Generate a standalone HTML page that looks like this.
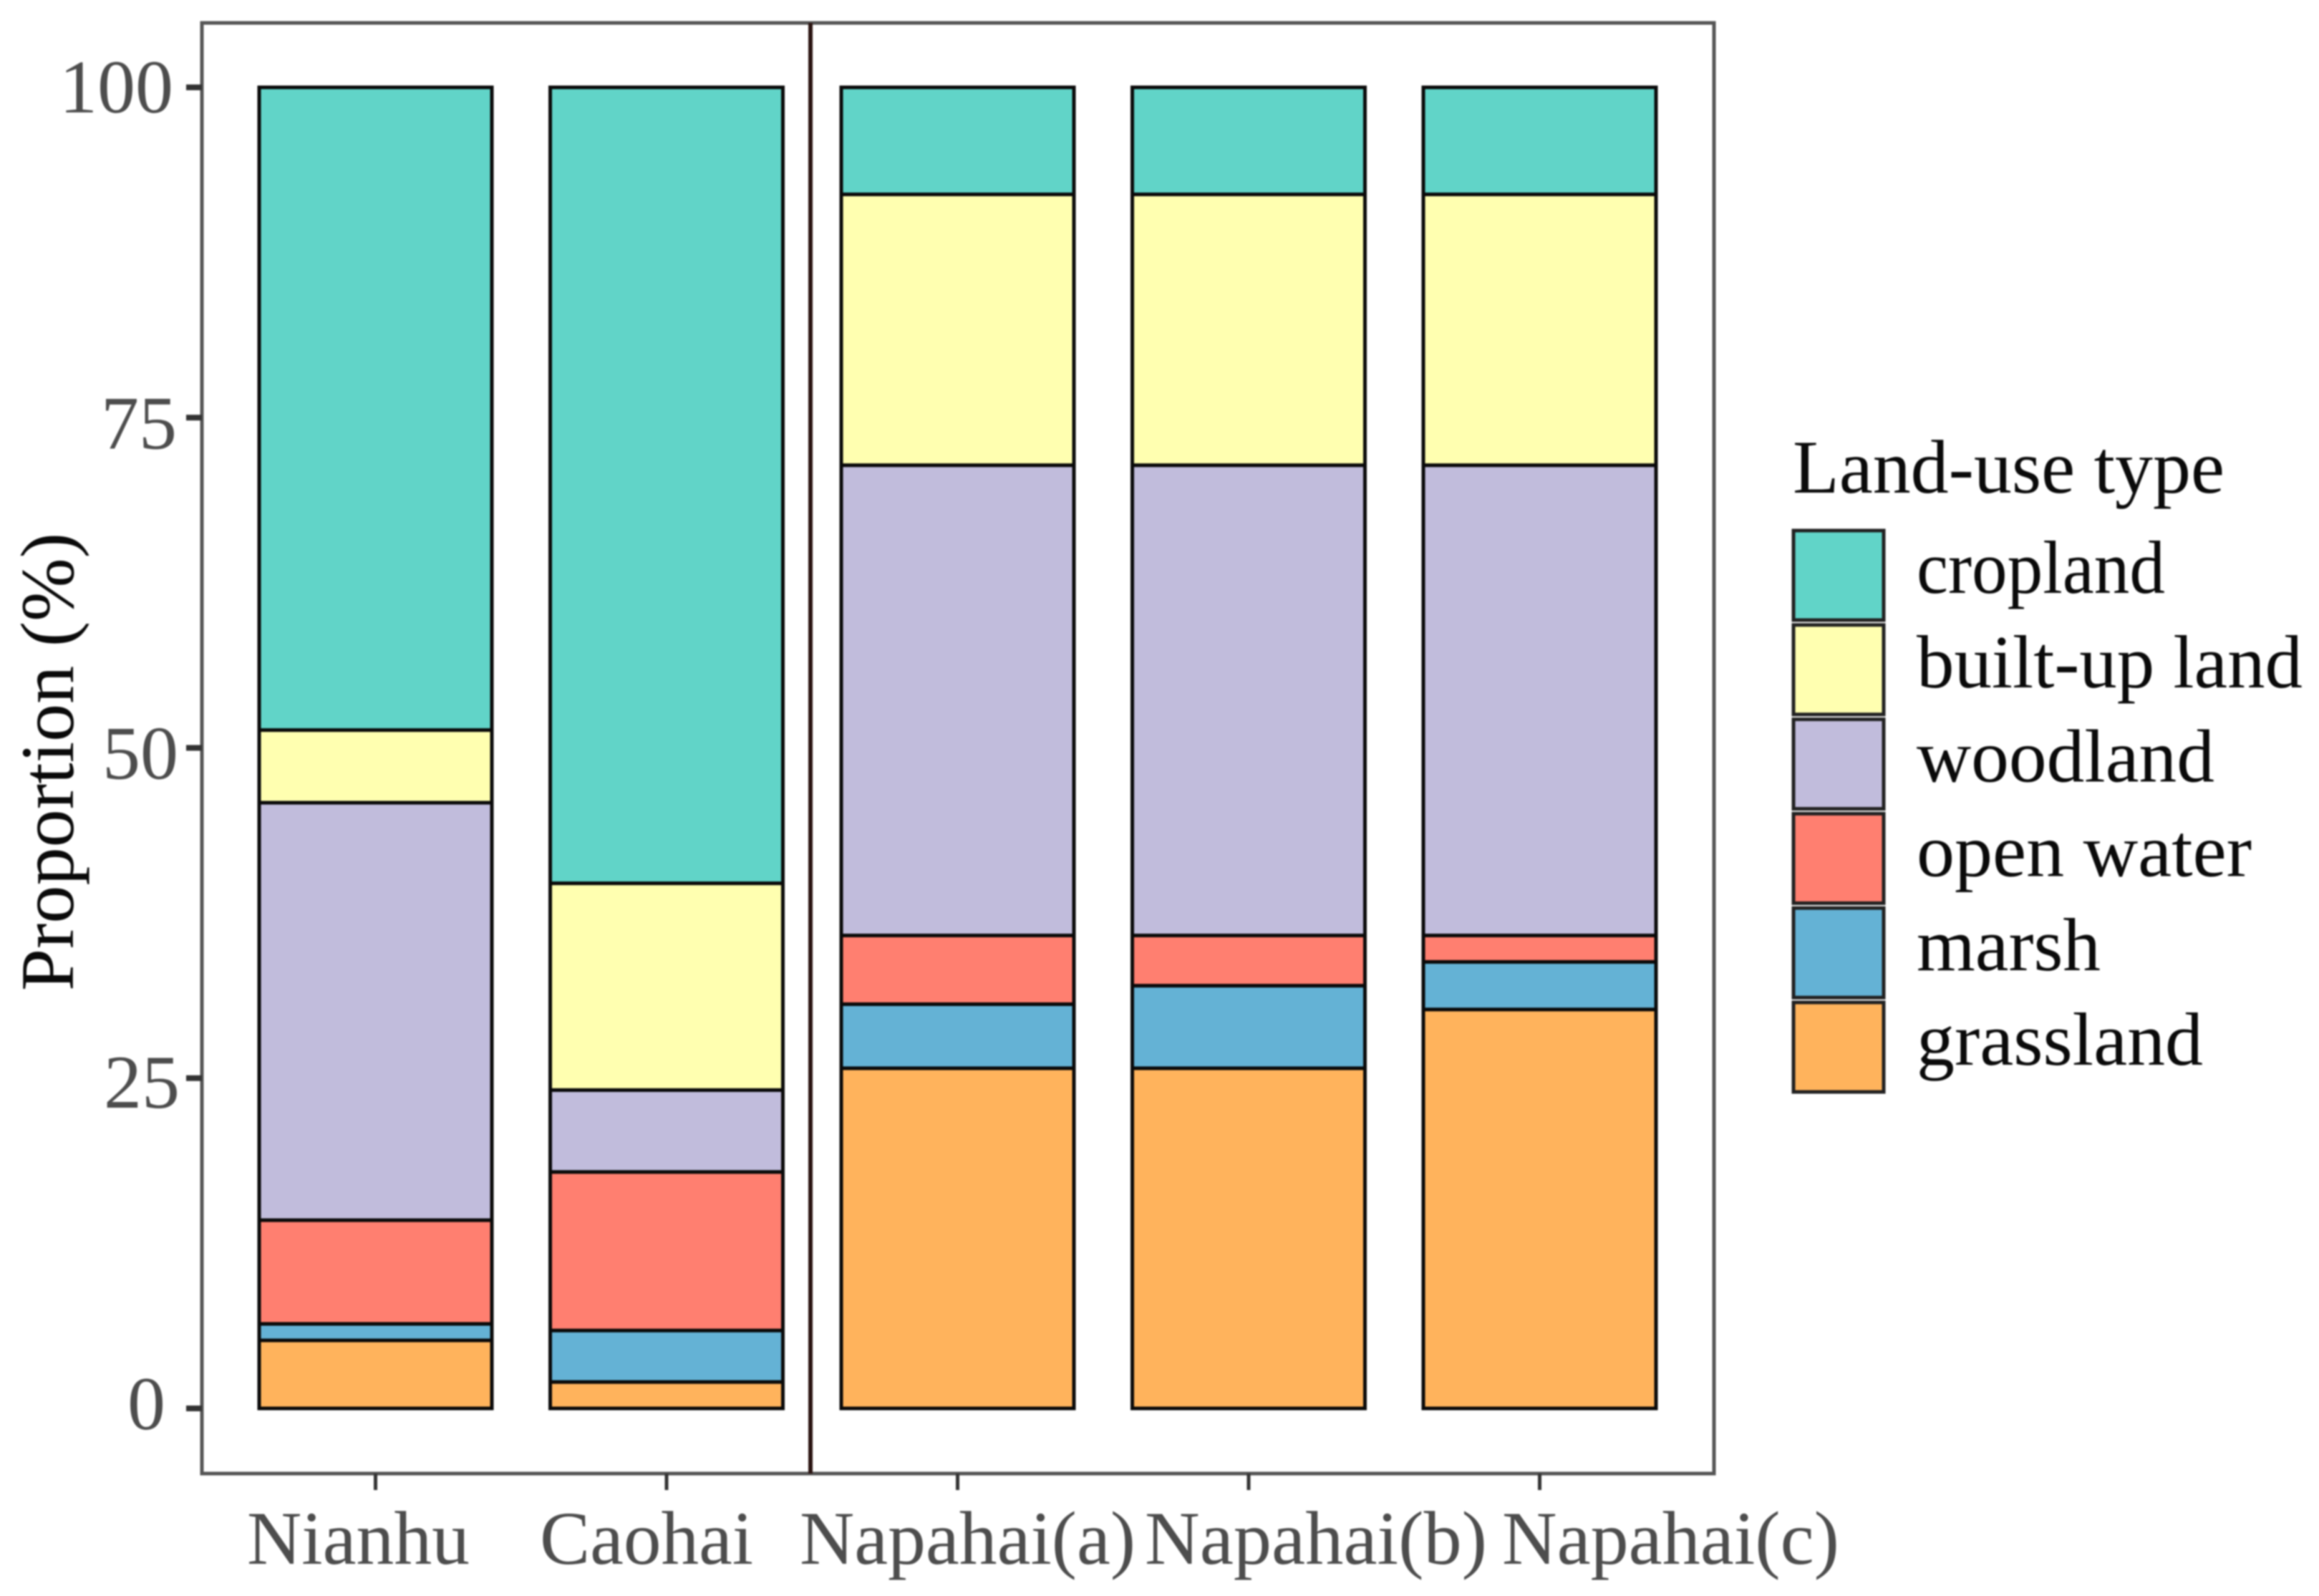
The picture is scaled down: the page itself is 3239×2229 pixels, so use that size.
<!DOCTYPE html>
<html lang="en">
<head>
<meta charset="utf-8">
<title>Land-use type proportions</title>
<style>
html,body{margin:0;padding:0;background:#fff}
svg{display:block;filter:blur(1px)}
text{font-family:"Liberation Serif",serif}
</style>
</head>
<body>
<svg id="chart" xmlns="http://www.w3.org/2000/svg" width="3239" height="2229" viewBox="0 0 3239 2229">
  <rect x="0" y="0" width="3239" height="2229" fill="#ffffff"/>
  <g id="bars"></g>
  <rect x="282" y="32" width="2112" height="2026" fill="none" stroke="#555555" stroke-width="5"/>
  <line x1="1132" y1="32" x2="1132" y2="2058" stroke="#2b1512" stroke-width="6"/>
  <g id="axes"></g>
  <text transform="translate(102,1064) rotate(-90)" text-anchor="middle" font-size="106" fill="#0a0a0a" textLength="640" lengthAdjust="spacingAndGlyphs">Proportion (%)</text>
  <g id="legend">
    <text x="2504" y="688" font-size="106" fill="#0a0a0a" textLength="603" lengthAdjust="spacingAndGlyphs">Land-use type</text>
  </g>
</svg>
<script>
const categories = ["Nianhu", "Caohai", "Napahai(a)", "Napahai(b)", "Napahai(c)"];
const yTicks = [0, 25, 50, 75, 100];
const grassland = [5.15, 2.0, 25.75, 25.75, 30.2];
const marsh = [1.25, 3.9, 4.85, 6.25, 3.6];
const openWater = [7.85, 12.0, 5.2, 3.8, 2.0];
const woodland = [31.6, 6.2, 35.6, 35.6, 35.6];
const builtUp = [5.5, 15.65, 20.5, 20.5, 20.5];
const cropland = [48.65, 60.25, 8.1, 8.1, 8.1];
const legendLabels = ["cropland", "built-up land", "woodland", "open water", "marsh", "grassland"];

const NS = "http://www.w3.org/2000/svg";
const seriesStack = [
  {key: "grassland", values: grassland, color: "#ffb35c"},
  {key: "marsh", values: marsh, color: "#64b2d5"},
  {key: "open-water", values: openWater, color: "#ff7f70"},
  {key: "woodland", values: woodland, color: "#c1bcdc"},
  {key: "built-up-land", values: builtUp, color: "#ffffb0"},
  {key: "cropland", values: cropland, color: "#61d4c8"}
];
const legendColors = ["#61d4c8", "#ffffb0", "#c1bcdc", "#ff7f70", "#64b2d5", "#ffb35c"];

function yScale(v) { return 1967 - v * 18.45; }
function xBandCenter(i) { return 524.5 + i * 406.5; }
const bandWidth = 325;
const yLabelEnd = {"0": 231, "25": 251, "50": 249, "75": 247, "100": 242};
const yLabelDrop = {"0": 29, "25": 41, "50": 43, "75": 43, "100": 35};
const xLabelShift = {"Nianhu": -24, "Caohai": -28, "Napahai(a)": 14, "Napahai(b)": 94, "Napahai(c)": 183};
const xLabelWidth = {"Nianhu": 311, "Caohai": 298, "Napahai(a)": 469, "Napahai(b)": 478, "Napahai(c)": 471};
const legendLabelWidth = {"cropland": 347, "built-up land": 539, "woodland": 416, "open water": 468, "marsh": 257, "grassland": 400};

function make(tag, attrs, parent) {
  const el = document.createElementNS(NS, tag);
  for (const k in attrs) el.setAttribute(k, attrs[k]);
  parent.appendChild(el);
  return el;
}

const barsG = document.getElementById("bars");
const axesG = document.getElementById("axes");
const legendG = document.getElementById("legend");

categories.forEach(function (cat, i) {
  let acc = 0;
  seriesStack.forEach(function (s) {
    const y0 = yScale(acc);
    acc += s.values[i];
    const y1 = yScale(acc);
    const r = make("rect", {
      x: xBandCenter(i) - bandWidth / 2,
      y: y1,
      width: bandWidth,
      height: y0 - y1,
      fill: s.color,
      stroke: "#0a0a0a",
      "stroke-width": 5
    }, barsG);
    
    
  });
});

yTicks.forEach(function (t) {
  const y = yScale(t);
  const tick = make("rect", {x: 260, y: y - 4, width: 22, height: 8, fill: "#333333"}, axesG);
  
  
  const label = make("text", {
    x: yLabelEnd[t],
    y: y + yLabelDrop[t],
    "text-anchor": "end",
    "font-size": 106,
    fill: "#4d4d4d"
  }, axesG);
  label.textContent = String(t);
  
  
});

categories.forEach(function (cat, i) {
  const x = xBandCenter(i);
  const tick = make("rect", {x: x - 2.5, y: 2058, width: 5, height: 23, fill: "#333333"}, axesG);
  
  
  const label = make("text", {
    x: x + xLabelShift[cat] - xLabelWidth[cat] / 2,
    y: 2184,
    "font-size": 106,
    fill: "#4d4d4d",
    textLength: xLabelWidth[cat],
    lengthAdjust: "spacingAndGlyphs"
  }, axesG);
  label.textContent = cat;
  
  
});

legendLabels.forEach(function (name, i) {
  const top = 740 + i * 131.8;
  const key = make("rect", {
    x: 2505, y: top + 1, width: 126, height: 125,
    fill: legendColors[i], stroke: "#222222", "stroke-width": 5
  }, legendG);
  
  
  const label = make("text", {
    x: 2677, y: top + 88, "font-size": 105, fill: "#0a0a0a",
    textLength: legendLabelWidth[name],
    lengthAdjust: "spacingAndGlyphs"
  }, legendG);
  label.textContent = name;
  
  
});
</script>
</body>
</html>
